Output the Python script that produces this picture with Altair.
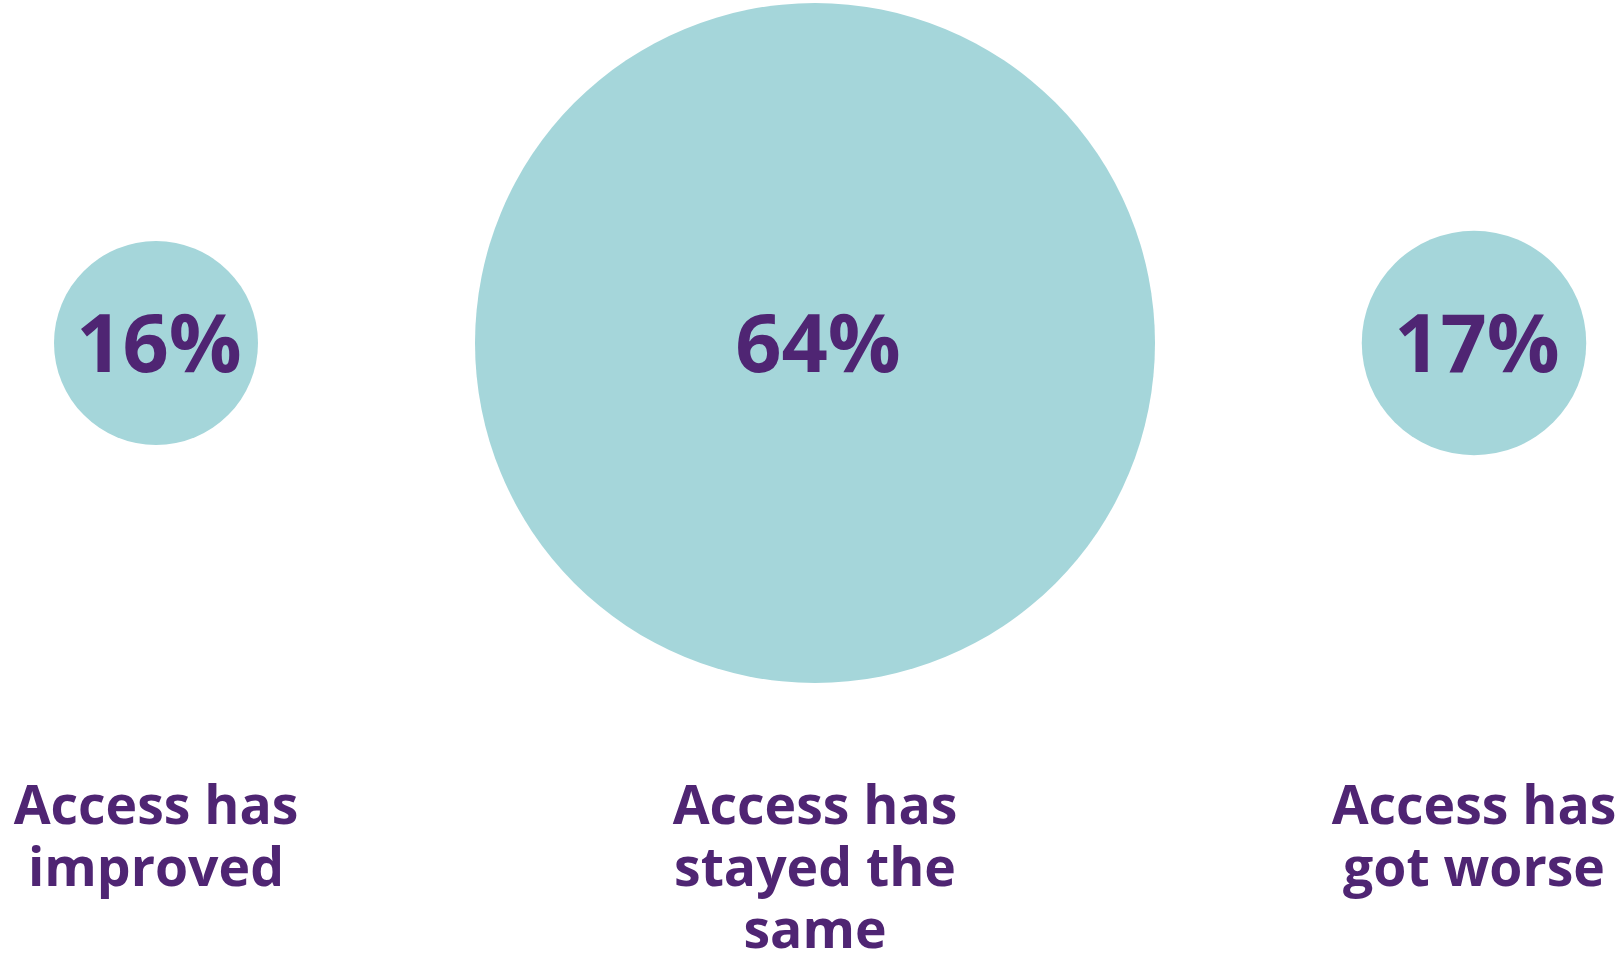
import altair as alt
import pandas as pd

categories = ["improved", "stayed the same", "got worse"]
values = [16, 64, 17]
labels = ["Access has\nimproved", "Access has\nstayed the\nsame", "Access has\ngot worse"]

df = pd.DataFrame({"category": categories, "value": values, "label": labels})

PURPLE = "#4F2573"
TEAL = "#A5D6DA"

x_enc = alt.X("category:N", sort=categories, axis=None,
              scale=alt.Scale(type="point", range=[156, 1474], padding=0))

base = alt.Chart(df).encode(x=x_enc)

circles = base.mark_point(shape="circle", filled=True, opacity=1, color=TEAL).encode(
    y=alt.value(343),
    size=alt.Size("value:Q", legend=None,
                  scale=alt.Scale(domain=[16, 64], range=[204**2, 680**2], zero=False)),
)

pct = base.transform_calculate(pct="datum.value + '%'").mark_text(
    font="Open Sans", fontWeight="bold", fontSize=81, color=PURPLE,
    align="center", baseline="alphabetic", dx=3,
).encode(y=alt.value(372), text="pct:N")

cat = base.mark_text(
    font="Open Sans", fontWeight="bold", fontSize=53.5, color=PURPLE,
    align="center", baseline="alphabetic", lineBreak="\n", lineHeight=62,
).encode(y=alt.value(824), text="label:N")

chart = alt.layer(circles, pct, cat).properties(
    width=1622, height=955, padding=0, autosize=alt.AutoSizeParams(type="none"),
    background="white",
).configure_view(stroke=None)

chart.save("out.html", embed_options={"renderer": "svg", "actions": False})
